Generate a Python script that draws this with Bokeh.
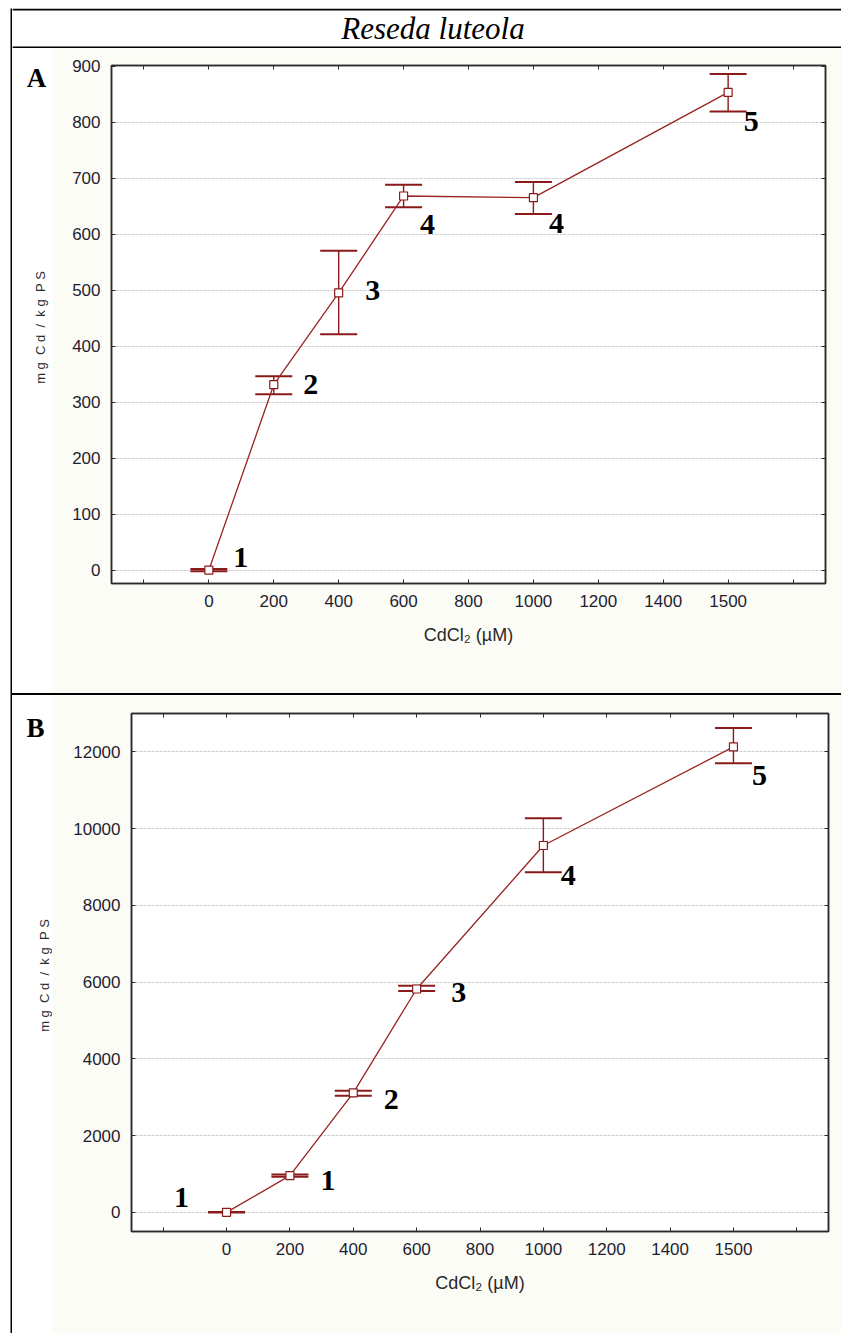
import math
from bokeh.plotting import figure
from bokeh.models import (ColumnDataSource, Whisker, TeeHead, FixedTicker, LinearAxis,
                          Label, Range1d, Div, BoxAnnotation)
from bokeh.layouts import row, column
from bokeh.embed import file_html
from bokeh.resources import INLINE
from bokeh.core.properties import value

# ---------------- data ----------------
x_tick_labels = ["0", "200", "400", "600", "800", "1000", "1200", "1400", "1500"]
cdcl2 = [0, 200, 400, 600, 1000, 1500]

a_mean = [0, 331, 495, 668, 665, 853]
a_lower = [-2, 314, 421, 648, 636, 819]
a_upper = [2, 346, 570, 688, 693, 886]
a_groups = ["1", "2", "3", "4", "4", "5"]
a_yticks = [0, 100, 200, 300, 400, 500, 600, 700, 800, 900]

b_mean = [0, 955, 3115, 5820, 9560, 12130]
b_lower = [-5, 925, 3040, 5765, 8860, 11705]
b_upper = [5, 985, 3165, 5905, 10270, 12625]
b_groups = ["1", "1", "2", "3", "4", "5"]
b_yticks = [0, 2000, 4000, 6000, 8000, 10000, 12000]

title_text = "Reseda luteola"
NB = "\u00a0"
y_title = NB.join(["m", "g", "", "C", "d", "", "/", "", "k", "g", "", "P", "S"])
x_title = "CdCl\u2082 (\u00b5M)"

# ---------------- styles ----------------
a_dx = [32, 37, 34, 24, 23, 23]
a_dy = [-13, 0, -2, 29, 26, 29]
b_dx = [-45, 38, 38, 42, 25, 26]
b_dy = [-15, 5, 7, 4, 30, 29]

RED = "#8b1a1a"
LINE_RED = "#9b2222"
AX = "#2a2a2a"
TICK_COL = "#1e1e30"
CREAM = "#fcfcf7"
BLACK = "#000000"
WHITE = "#ffffff"
FRAME_H = 518
INNER_W = 829
TITLE_H = 40


def no_align(p):
    try:
        p.frame_align = False
    except Exception:
        pass


def make_panel(mean, lower, upper, groups, dx, dy, yticks, yr, frame_w,
               left_b, right_b, top_b, bottom_b):
    xi = [x_tick_labels.index(str(c)) for c in cdcl2]
    src = ColumnDataSource(dict(x=xi, mean=mean, lower=lower, upper=upper,
                                grp=groups, dx=dx, dy=dy))
    p = figure(frame_width=frame_w, frame_height=FRAME_H,
               x_range=Range1d(-1.5, 9.5), y_range=Range1d(*yr),
               output_backend="svg", toolbar_location=None,
               min_border_left=left_b, min_border_right=right_b,
               min_border_top=top_b, min_border_bottom=bottom_b)
    no_align(p)
    p.background_fill_color = "white"
    p.border_fill_color = CREAM
    p.outline_line_color = AX
    p.outline_line_width = 1.5

    xt = FixedTicker(ticks=list(range(-1, 10)))
    overrides = {i: lab for i, lab in enumerate(x_tick_labels)}
    overrides[-1] = ""
    overrides[9] = ""
    yt = FixedTicker(ticks=yticks)

    xa = p.xaxis[0]
    xa.ticker = xt
    xa.major_label_overrides = overrides
    xa.axis_label = x_title
    ya = p.yaxis[0]
    ya.ticker = yt

    for ax in (xa, ya):
        ax.major_tick_in = 4
        ax.major_tick_out = 0
        ax.minor_tick_line_color = None
        ax.axis_line_color = AX
        ax.axis_line_width = 1.5
        ax.major_tick_line_color = AX
        ax.major_label_text_font = "Liberation Sans"
        ax.major_label_text_font_size = "17px"
        ax.major_label_text_color = TICK_COL
        ax.major_label_standoff = 11
    xa.axis_label_text_font = "Liberation Sans"
    xa.axis_label_text_font_style = "normal"
    xa.axis_label_text_color = "#2a2a2a"
    xa.axis_label_text_font_size = "18px"
    xa.axis_label_standoff = 15

    top = LinearAxis(ticker=xt, major_tick_in=4, major_tick_out=0,
                     minor_tick_line_color=None, major_label_text_font_size="0px",
                     major_label_text_color=None, major_label_standoff=0,
                     axis_line_color=AX, axis_line_width=1.5, major_tick_line_color=AX)
    right = LinearAxis(ticker=yt, major_tick_in=4, major_tick_out=0,
                       minor_tick_line_color=None, major_label_text_font_size="0px",
                       major_label_text_color=None, major_label_standoff=0,
                       axis_line_color=AX, axis_line_width=1.5, major_tick_line_color=AX)
    p.add_layout(top, "above")
    p.add_layout(right, "right")

    p.xgrid.visible = False
    p.ygrid.ticker = yt
    p.ygrid.grid_line_color = "#cfcfcf"
    p.ygrid.grid_line_dash = "3 1"
    p.ygrid.grid_line_width = 1

    p.line("x", "mean", source=src, line_color=LINE_RED, line_width=1.3)
    w = Whisker(base="x", upper="upper", lower="lower", source=src,
                dimension="height", line_color=RED, line_width=1.4,
                upper_head=TeeHead(size=37, line_color=RED, line_width=2),
                lower_head=TeeHead(size=37, line_color=RED, line_width=2))
    p.add_layout(w)
    p.scatter("x", "mean", source=src, marker="square", size=8,
              fill_color="white", line_color=RED, line_width=1.2)

    p.text(x="x", y="mean", text="grp", x_offset="dx", y_offset="dy", source=src,
           text_font=value("Liberation Serif"), text_font_style="bold",
           text_font_size="30px", text_align="center", text_baseline="middle",
           text_color="black")
    return p


def make_side(letter, letter_xy, title_xy, top_b, bottom_b, width=40):
    # strip left of a panel holding the panel letter and the rotated y-axis title
    s = figure(frame_width=width, frame_height=FRAME_H, x_range=Range1d(0, width),
               y_range=Range1d(0, FRAME_H), output_backend="svg", toolbar_location=None,
               min_border_left=0, min_border_right=0, min_border_top=top_b,
               min_border_bottom=bottom_b, x_axis_location=None, y_axis_location=None)
    no_align(s)
    s.grid.visible = False
    s.outline_line_color = None
    s.background_fill_color = "white"
    s.border_fill_color = "white"
    s.add_layout(Label(x=letter_xy[0], y=letter_xy[1], text=letter,
                       text_font="Liberation Serif", text_font_style="bold",
                       text_font_size="27px", text_align="center", text_baseline="middle",
                       text_color="black"))
    s.add_layout(Label(x=title_xy[0], y=title_xy[1], text=y_title, angle=math.pi / 2,
                       text_font="Liberation Sans", text_font_size="13px",
                       text_align="center", text_baseline="middle", text_color="#2a2a2a"))
    return s


def block(w, h, color):
    # plain filled rectangle used for the left table rule and blank margins
    b = figure(width=w, height=h, output_backend="svg", toolbar_location=None,
               min_border=0, x_axis_location=None, y_axis_location=None)
    no_align(b)
    b.grid.visible = False
    b.outline_line_color = None
    b.background_fill_color = color
    b.border_fill_color = color
    return b


def hrule(w, h):
    return Div(text="", width=w, height=h,
               styles={"background-color": BLACK, "margin": "0", "padding": "0"})


pA = make_panel(a_mean, a_lower, a_upper, a_groups, a_dx, a_dy, a_yticks, (-24, 901),
                714, 59, INNER_W - 40 - 59 - 714, 17, 110)
sA = make_side("A", (24, 505.5), (28, 256), 17, 110)
pB = make_panel(b_mean, b_lower, b_upper, b_groups, b_dx, b_dy, b_yticks, (-500, 13000),
                697, 79, INNER_W - 40 - 79 - 697, 18, 102)
sB = make_side("B", (23, 503.5), (32, 256), 18, 102)

# title row (with the table's top rule and the rule under the title)
t = figure(width=INNER_W, height=TITLE_H, x_range=Range1d(0, INNER_W),
           y_range=Range1d(0, TITLE_H), output_backend="svg", toolbar_location=None,
           min_border=0, x_axis_location=None, y_axis_location=None)
no_align(t)
t.grid.visible = False
t.outline_line_color = None
t.background_fill_color = WHITE
t.border_fill_color = WHITE
t.add_layout(BoxAnnotation(bottom=TITLE_H - 2, top=TITLE_H, fill_color=BLACK,
                           fill_alpha=1, line_color=None))
t.add_layout(BoxAnnotation(bottom=0, top=2, fill_color=BLACK, fill_alpha=1,
                           line_color=None))
t.add_layout(Label(x=420.5, y=20, text=title_text, text_font="Liberation Serif",
                   text_font_style="italic", text_font_size="31px", text_align="center",
                   text_baseline="middle", text_color="black"))

body_h = TITLE_H + 645 + 2 + 638
layout = column(
    block(10 + 2 + INNER_W, 8, WHITE),
    row(block(10, body_h, WHITE), block(2, body_h, BLACK),
        column(t, row(sA, pA), hrule(INNER_W, 2), row(sB, pB))),
)

open("out.html", "w").write(file_html(layout, INLINE))
